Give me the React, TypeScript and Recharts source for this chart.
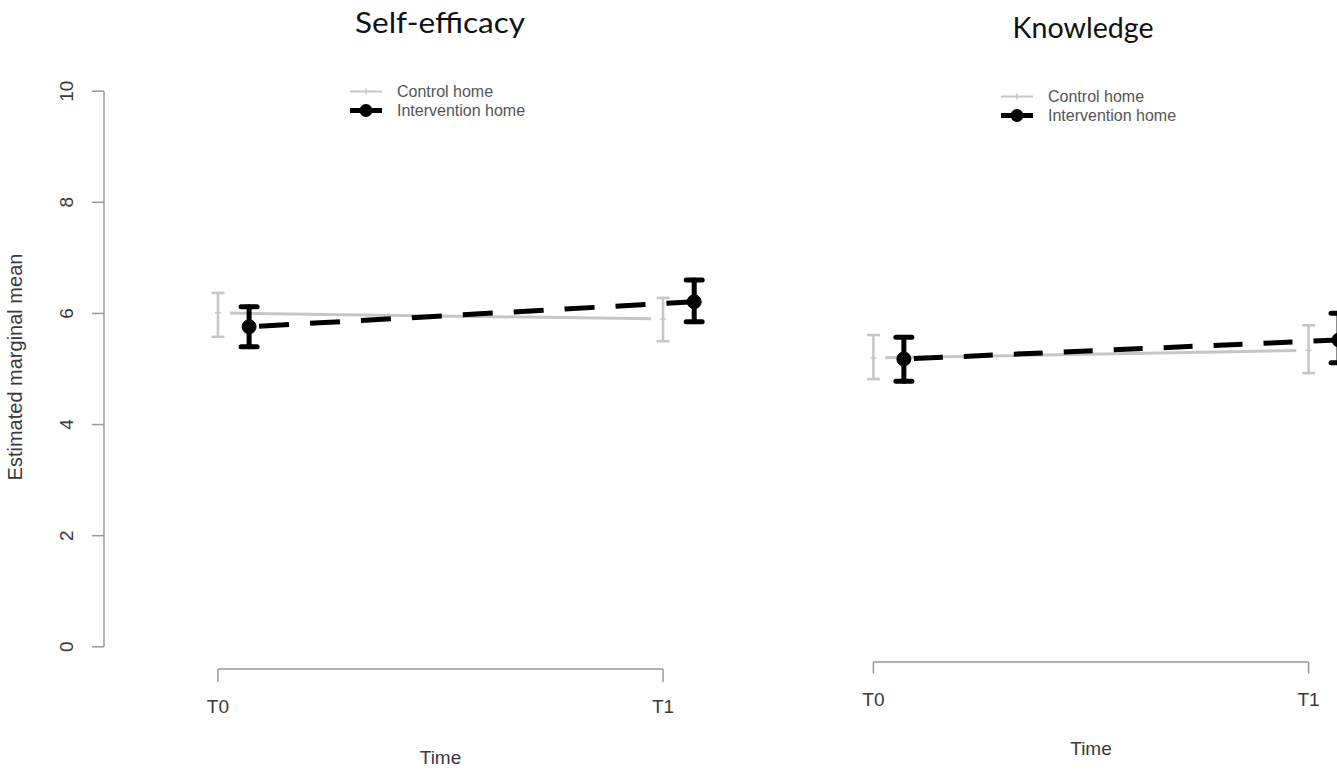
import React from 'react';
import { ComposedChart, Line, XAxis, YAxis, ErrorBar, ReferenceLine, Legend, Label } from 'recharts';

// ---- data ----
const timeLabels = ['T0', 'T1'];
const timePositions = [0, 1];
const seriesNames = ['Control home', 'Intervention home'];
const yTicks = [0, 2, 4, 6, 8, 10];

const selfEfficacyControlMean = [6.01, 5.9];
const selfEfficacyControlLower = [5.58, 5.5];
const selfEfficacyControlUpper = [6.37, 6.28];
const selfEfficacyInterventionMean = [5.76, 6.21];
const selfEfficacyInterventionLower = [5.4, 5.85];
const selfEfficacyInterventionUpper = [6.12, 6.6];

const knowledgeControlMean = [5.19, 5.33];
const knowledgeControlLower = [4.8, 4.91];
const knowledgeControlUpper = [5.61, 5.79];
const knowledgeInterventionMean = [5.17, 5.52];
const knowledgeInterventionLower = [4.76, 5.1];
const knowledgeInterventionUpper = [5.57, 6.01];

const DODGE = 0.07;
const X_DOMAIN: [number, number] = [-0.256, 1.256];
const Y_DOMAIN: [number, number] = [-0.4, 10.4];

const build = (mean: number[], lower: number[], upper: number[], offset: number) =>
  timePositions.map((t, i) => ({
    x: t + offset,
    y: mean[i],
    err: [mean[i] - lower[i], upper[i] - mean[i]],
  }));

const FONT = '"Liberation Sans", Arial, sans-serif';
const GRAY = '#c6c6c6';
const AXIS_GRAY = '#999';
const TEXT = '#3a3a3a';

const ControlDot = (p: any) => {
  const { cx, cy, index } = p;
  if (cx == null || cy == null) return <g key={`cd${index}`} />;
  return (
    <g key={`cd${index}`}>
      <line x1={cx - 3} x2={cx + 3} y1={cy} y2={cy} stroke={GRAY} strokeWidth={1.5} />
      <line x1={cx} x2={cx} y1={cy - 3} y2={cy + 3} stroke={GRAY} strokeWidth={1.5} />
    </g>
  );
};

const YTick = (p: any) => {
  const { x, y, payload } = p;
  return (
    <text
      transform={`translate(${x},${y}) rotate(-90)`}
      textAnchor="middle"
      fontSize={19}
      fontFamily={FONT}
      fill={TEXT}
    >
      {payload.value}
    </text>
  );
};

const LegendContent = (p: any) => {
  const payload = p.payload || [];
  return (
    <div style={{ fontFamily: FONT, fontSize: 16, color: '#555', lineHeight: '19px' }}>
      {payload.map((entry: any, i: number) => {
        const isIntervention = entry.value === seriesNames[1];
        return (
          <div key={i} style={{ display: 'flex', alignItems: 'center', height: 19, whiteSpace: 'nowrap' }}>
            <svg width={34} height={19} style={{ display: 'block' }}>
              {isIntervention ? (
                <g>
                  <line x1={1} x2={33} y1={9.5} y2={9.5} stroke="#000" strokeWidth={5} />
                  <circle cx={17} cy={9.5} r={6.5} fill="#000" />
                </g>
              ) : (
                <g>
                  <line x1={1} x2={33} y1={9.5} y2={9.5} stroke={GRAY} strokeWidth={2} />
                  <line x1={17} x2={17} y1={6.5} y2={12.5} stroke={GRAY} strokeWidth={1.5} />
                </g>
              )}
            </svg>
            <span style={{ marginLeft: 14 }}>{entry.value}</span>
          </div>
        );
      })}
    </div>
  );
};

type PanelProps = {
  control: any[];
  intervention: any[];
  showY: boolean;
  left: number;
  width: number;
  margin: { top: number; right: number; bottom: number; left: number };
  xAxisHeight: number;
  tickSize: number;
  tickMargin: number;
  timeOffset: number;
  controlDash: string;
  interventionDash: string;
  interventionDashOffset: number;
  legendPos: { left: number; top: number };
};

const Panel = (props: PanelProps) => {
  const {
    control, intervention, showY, left, width, margin, xAxisHeight, tickSize, tickMargin,
    timeOffset, controlDash, interventionDash, interventionDashOffset, legendPos,
  } = props;
  return (
    <div style={{ position: 'absolute', left, top: 0 }}>
      <ComposedChart width={width} height={773} margin={margin}>
        <XAxis
          dataKey="x"
          type="number"
          domain={X_DOMAIN}
          ticks={timePositions}
          tickFormatter={(v: number) => timeLabels[timePositions.indexOf(v)] ?? ''}
          axisLine={false}
          tickLine={{ stroke: AXIS_GRAY, strokeWidth: 1.5 }}
          tickSize={tickSize}
          tickMargin={tickMargin}
          height={xAxisHeight}
          tick={{ fontSize: 19, fontFamily: FONT, fill: TEXT }}
          interval={0}
        >
          <Label
            value="Time"
            content={(lp: any) => {
              const vb = lp.viewBox || {};
              return (
                <text
                  x={vb.x + vb.width / 2}
                  y={vb.y + vb.height - timeOffset}
                  textAnchor="middle"
                  fontSize={19}
                  fontFamily={FONT}
                  fill={TEXT}
                >
                  Time
                </text>
              );
            }}
          />
        </XAxis>
        <YAxis
          type="number"
          domain={Y_DOMAIN}
          ticks={yTicks}
          hide={!showY}
          width={showY ? 104 : 0}
          axisLine={false}
          tickLine={{ stroke: AXIS_GRAY, strokeWidth: 1.5 }}
          tickSize={12}
          tickMargin={19}
          tick={<YTick />}
          interval={0}
        >
          {showY && (
            <Label
              value="Estimated marginal mean"
              content={(lp: any) => {
                const vb = lp.viewBox || {};
                return (
                  <text
                    transform={`translate(${vb.x + 22},${vb.y + vb.height / 2 - 2}) rotate(-90)`}
                    textAnchor="middle"
                    fontSize={20}
                    fontFamily={FONT}
                    fill={TEXT}
                  >
                    Estimated marginal mean
                  </text>
                );
              }}
            />
          )}
        </YAxis>
        {showY && (
          <ReferenceLine
            segment={[{ x: X_DOMAIN[0], y: yTicks[0] }, { x: X_DOMAIN[0], y: yTicks[yTicks.length - 1] }]}
            stroke={AXIS_GRAY}
            strokeWidth={1.5}
            ifOverflow="visible"
          />
        )}
        <ReferenceLine
          segment={[{ x: timePositions[0], y: Y_DOMAIN[0] }, { x: timePositions[1], y: Y_DOMAIN[0] }]}
          stroke={AXIS_GRAY}
          strokeWidth={1.5}
          ifOverflow="visible"
        />
        <Legend
          layout="vertical"
          verticalAlign="middle"
          align="center"
          content={<LegendContent />}
          wrapperStyle={{ left: legendPos.left, top: legendPos.top, width: 260, height: 40 }}
        />
        <Line
          name={seriesNames[0]}
          data={control}
          dataKey="y"
          type="linear"
          stroke={GRAY}
          strokeWidth={3}
          strokeDasharray={controlDash}
          dot={<ControlDot />}
          activeDot={false}
          isAnimationActive={false}
        >
          <ErrorBar dataKey="err" direction="y" width={6.5} stroke={GRAY} strokeWidth={2.5} isAnimationActive={false} />
        </Line>
        <Line
          name={seriesNames[1]}
          data={intervention}
          dataKey="y"
          type="linear"
          stroke="#000"
          strokeWidth={5}
          strokeDasharray={interventionDash}
          strokeDashoffset={interventionDashOffset}
          dot={{ r: 7, fill: '#000', stroke: '#000', strokeWidth: 1, strokeDasharray: '' }}
          activeDot={false}
          isAnimationActive={false}
        >
          <ErrorBar
            dataKey="err"
            direction="y"
            width={8}
            stroke="#000"
            strokeWidth={5}
            strokeLinecap="round"
            isAnimationActive={false}
          />
        </Line>
      </ComposedChart>
    </div>
  );
};

export default function App() {
  const seCtrl = build(selfEfficacyControlMean, selfEfficacyControlLower, selfEfficacyControlUpper, 0);
  const seInt = build(selfEfficacyInterventionMean, selfEfficacyInterventionLower, selfEfficacyInterventionUpper, DODGE);
  const knCtrl = build(knowledgeControlMean, knowledgeControlLower, knowledgeControlUpper, 0);
  const knInt = build(knowledgeInterventionMean, knowledgeInterventionLower, knowledgeInterventionUpper, DODGE);

  return (
    <div
      style={{
        position: 'absolute',
        left: 0,
        top: 0,
        width: 1337,
        height: 773,
        overflow: 'hidden',
        background: '#fff',
      }}
    >
      <Panel
        control={seCtrl}
        intervention={seInt}
        showY={true}
        left={0}
        width={785}
        margin={{ top: 69, right: 8, bottom: 0, left: 0 }}
        xAxisHeight={104}
        tickSize={13}
        tickMargin={18}
        timeOffset={9}
        controlDash="0 12 421 100"
        interventionDash="30 21"
        interventionDashOffset={41}
        legendPos={{ left: 349, top: 81.5 }}
      />
      <Panel
        control={knCtrl}
        intervention={knInt}
        showY={false}
        left={700}
        width={720}
        margin={{ top: 74.5, right: 0, bottom: 0, left: 62 }}
        xAxisHeight={111}
        tickSize={11.5}
        tickMargin={19}
        timeOffset={18}
        controlDash="0 12 411 100"
        interventionDash="29 21"
        interventionDashOffset={40}
        legendPos={{ left: 300, top: 86.5 }}
      />
      <svg
        width={1337}
        height={60}
        style={{ position: 'absolute', left: 0, top: 0, pointerEvents: 'none' }}
      >
        <text
          x={440}
          y={33}
          textAnchor="middle"
          fontFamily="Lato, 'Open Sans', sans-serif"
          fontSize={28}
          textLength={170}
          lengthAdjust="spacingAndGlyphs"
          fill="#111"
        >
          Self-efficacy
        </text>
        <text
          x={1083}
          y={38}
          textAnchor="middle"
          fontFamily="Lato, 'Open Sans', sans-serif"
          fontSize={28}
          textLength={141}
          lengthAdjust="spacingAndGlyphs"
          fill="#111"
        >
          Knowledge
        </text>
      </svg>
    </div>
  );
}
